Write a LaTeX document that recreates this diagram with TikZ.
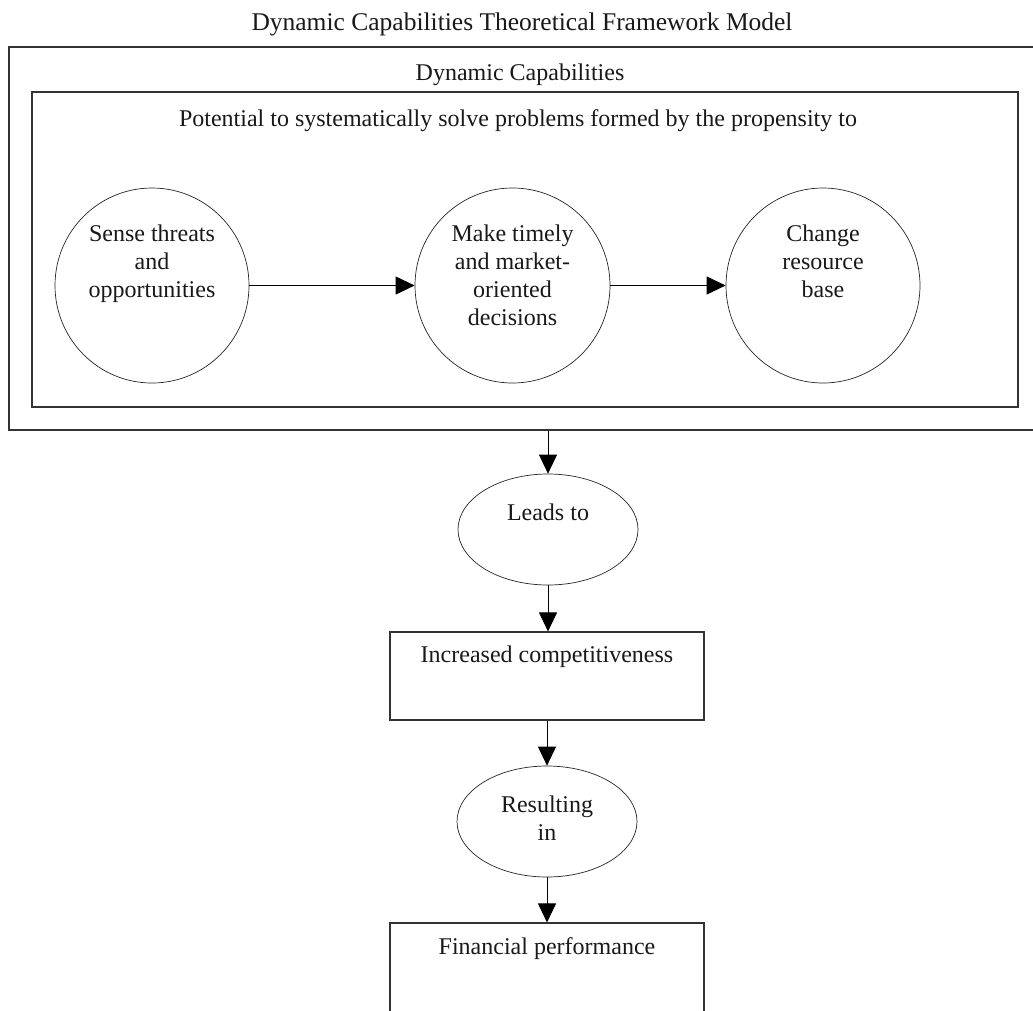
\documentclass[tikz,border=0pt]{standalone}
\usepackage{fontspec}
\setmainfont{Liberation Serif}
\usetikzlibrary{arrows.meta,shapes.geometric}
\begin{document}
\begin{tikzpicture}[x=1pt,y=-1pt,
  txt/.style={font=\fontsize{24}{28}\selectfont, inner sep=0pt, align=center, text=black!90},
  boxframe/.style={draw=black!80, line width=1.1pt, rectangle, inner sep=0pt},
  oval/.style={draw=black!85, line width=0.7pt, ellipse, inner sep=0pt},
  conn/.style={draw=black, line width=0.9pt, -{Triangle[length=19pt,width=18pt]}}]
\clip (0,0) rectangle (1033,1010);
\fill[white] (0,0) rectangle (1033,1010);
% frames
\node[boxframe, minimum width=1036pt, minimum height=383pt] (outer) at (527,238.5) {};
\node[boxframe, minimum width=986pt, minimum height=315pt] (inner) at (525,249.5) {};
% texts on top
\node[txt, font=\fontsize{25.5}{30}\selectfont, anchor=base] (title) at (522,30) {Dynamic Capabilities Theoretical Framework Model};
\node[txt, anchor=base] (dclabel) at (520,80) {Dynamic Capabilities};
\node[txt, anchor=base] (potential) at (518,126) {Potential to systematically solve problems formed by the propensity to};
% three ellipses
\node[oval, minimum width=194pt, minimum height=195pt] (sense) at (152,285.5) {};
\node[oval, minimum width=195pt, minimum height=195pt] (make) at (512.5,285.5) {};
\node[oval, minimum width=194pt, minimum height=195pt] (change) at (823,285.5) {};
\node[txt, anchor=north] (sensetxt) at (152,224.6) {Sense threats\\and\\opportunities};
\node[txt, anchor=north] (maketxt) at (512.5,224.6) {Make timely\\and market-\\oriented\\decisions};
\node[txt, anchor=north] (changetxt) at (823,224.6) {Change\\resource\\base};
% lower chain
\node[oval, minimum width=180pt, minimum height=111pt] (leads) at (548,529.5) {};
\node[txt, anchor=base] (leadstxt) at (548,520) {Leads to};
\node[boxframe, minimum width=314pt, minimum height=88pt] (incr) at (547,676) {};
\node[txt, anchor=base] (incrtxt) at (547,662) {Increased competitiveness};
\node[oval, minimum width=180pt, minimum height=111pt] (result) at (547,821.5) {};
\node[txt, anchor=north] (resulttxt) at (547,795.6) {Resulting\\in};
\node[boxframe, minimum width=314pt, minimum height=117pt] (fin) at (547,981.5) {};
\node[txt, anchor=base] (fintxt) at (547,954) {Financial performance};
% connectors
\draw[conn] (sense.east) -- (make.west);
\draw[conn] (make.east) -- (change.west);
\draw[conn] (leads.north |- outer.south) -- (leads.north);
\draw[conn] (leads.south) -- (leads.south |- incr.north);
\draw[conn] (result.north |- incr.south) -- (result.north);
\draw[conn] (result.south) -- (fin.north);
\end{tikzpicture}
\end{document}
